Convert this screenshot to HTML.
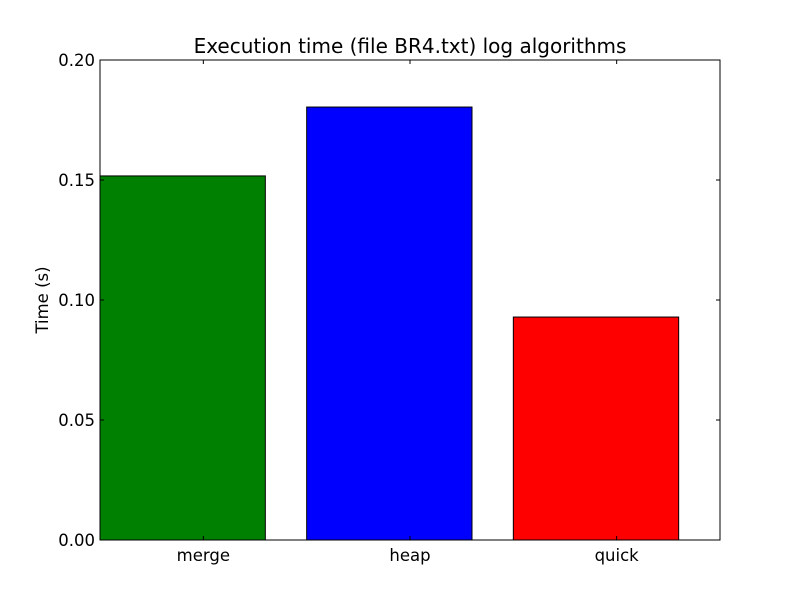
<!DOCTYPE html>
<html><head><meta charset="utf-8"><style>
html,body{margin:0;padding:0;background:#fff;}
svg{display:block;font-family:"DejaVu Sans","Liberation Sans",sans-serif;}
</style></head><body>
<svg id="chart" width="800" height="600">
<rect width="800" height="600" fill="#fff"/>
<text x="410" y="53" font-size="20" text-anchor="middle">Execution time (file BR4.txt) log algorithms</text>
<text x="0" y="0" font-size="16.5" text-anchor="middle" transform="translate(48,300) rotate(-90)">Time (s)</text>
<g id="bars"></g>
<g id="ticks"></g>
<rect x="100" y="60" width="620" height="480" fill="none" stroke="#000" stroke-width="1"/>
</svg>
<script>
const categories = ["merge", "heap", "quick"];
const values = [0.1517, 0.1804, 0.0929];
const colors = ["#008000", "#0000ff", "#ff0000"];
const yTicks = [0, 0.05, 0.10, 0.15, 0.20];
const yTickLabels = ["0.00", "0.05", "0.10", "0.15", "0.20"];

const L = 100, R = 720, T = 60, B = 540;
const xMin = -0.4, xMax = 2.6, yMin = 0, yMax = 0.2;
const xs = v => L + (v - xMin) / (xMax - xMin) * (R - L);
const ys = v => B - (v - yMin) / (yMax - yMin) * (B - T);
const NS = "http://www.w3.org/2000/svg";
const bars = document.getElementById("bars");
const ticks = document.getElementById("ticks");

categories.forEach((c, i) => {
  const r = document.createElementNS(NS, "rect");
  const x0 = xs(i - 0.4), x1 = xs(i + 0.4);
  r.setAttribute("x", x0);
  r.setAttribute("y", ys(values[i]));
  r.setAttribute("width", x1 - x0);
  r.setAttribute("height", ys(0) - ys(values[i]));
  r.setAttribute("fill", colors[i]);
  r.setAttribute("stroke", "#000");
  r.setAttribute("stroke-width", "1");
  
  
  bars.appendChild(r);

  const cx = xs(i + 0.1);
  [[B, B - 4], [T, T + 4]].forEach(([a, b]) => {
    const l = document.createElementNS(NS, "line");
    l.setAttribute("x1", cx); l.setAttribute("x2", cx);
    l.setAttribute("y1", a); l.setAttribute("y2", b);
    l.setAttribute("stroke", "#000");
    
    
    ticks.appendChild(l);
  });
  const t = document.createElementNS(NS, "text");
  t.setAttribute("x", cx); t.setAttribute("y", 561);
  t.setAttribute("font-size", "16.5");
  t.setAttribute("text-anchor", "middle");
  t.textContent = c;
  
  
  ticks.appendChild(t);
});

yTicks.forEach((v, i) => {
  const y = ys(v);
  [[L, L + 4], [R, R - 4]].forEach(([a, b]) => {
    const l = document.createElementNS(NS, "line");
    l.setAttribute("x1", a); l.setAttribute("x2", b);
    l.setAttribute("y1", y); l.setAttribute("y2", y);
    l.setAttribute("stroke", "#000");
    
    
    ticks.appendChild(l);
  });
  const t = document.createElementNS(NS, "text");
  t.setAttribute("x", 95); t.setAttribute("y", y + 6);
  t.setAttribute("font-size", "16.5");
  t.setAttribute("text-anchor", "end");
  t.textContent = yTickLabels[i];
  
  
  ticks.appendChild(t);
});
</script>
</body></html>
